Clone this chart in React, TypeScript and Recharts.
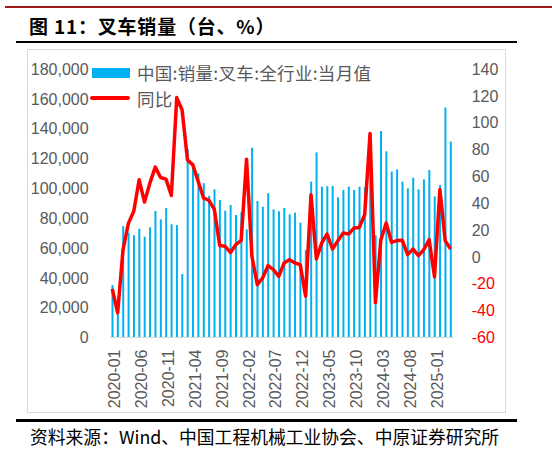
import { Bar, ComposedChart, Legend, Line, XAxis, YAxis } from 'recharts';

// months shown on the category axis (2020-01 .. 2025-04)
const months = [
	'2020-01', '2020-02', '2020-03', '2020-04', '2020-05', '2020-06', '2020-07', '2020-08', '2020-09', '2020-10', '2020-11', '2020-12',
	'2021-01', '2021-02', '2021-03', '2021-04', '2021-05', '2021-06', '2021-07', '2021-08', '2021-09', '2021-10', '2021-11', '2021-12',
	'2022-01', '2022-02', '2022-03', '2022-04', '2022-05', '2022-06', '2022-07', '2022-08', '2022-09', '2022-10', '2022-11', '2022-12',
	'2023-01', '2023-02', '2023-03', '2023-04', '2023-05', '2023-06', '2023-07', '2023-08', '2023-09', '2023-10', '2023-11', '2023-12',
	'2024-01', '2024-02', '2024-03', '2024-04', '2024-05', '2024-06', '2024-07', '2024-08', '2024-09', '2024-10', '2024-11', '2024-12',
	'2025-01', '2025-02', '2025-03', '2025-04'
];

// 中国:销量:叉车:全行业:当月值 (台)
const sales = [
	35200, 16000, 74700, 70300, 68500, 73000, 67600, 73900, 84800, 79200, 86800, 75900,
	75400, 42600, 126400, 116300, 110000, 103400, 95000, 99300, 92200, 85000, 88800, 82100,
	83900, 72500, 127200, 91500, 87700, 96700, 85900, 84600, 86800, 82600, 83700, 77000,
	58700, 104500, 124100, 101100, 101400, 101600, 94000, 98900, 101100, 98900, 101100, 100700,
	112000, 68600, 138400, 124800, 111200, 112700, 104500, 100000, 107100, 99300, 106000, 112300,
	94600, 102200, 154200, 131300
];

// 同比 (%)
const yoy = [
	-23.8, -41.6, 5.4, 25, 34, 57.5, 40.9, 55, 66.9, 59.2, 58, 45.8,
	118.7, 109.5, 72.3, 68.6, 56.2, 43.9, 42.1, 35.5, 8.5, 7.9, 3.4, 9.1,
	12.4, 72.8, 0.5, -20.6, -15.6, -6.5, -9.4, -14.4, -4.5, -2, -4.5, -5.7,
	-29.3, 46.3, -1.5, 10.4, 17.1, 5.9, 12, 17.8, 17.1, 21.5, 22, 31.5,
	92, -34, 12.6, 25.3, 10.9, 12.2, 12.4, 1.7, 5.9, 1, 5.4, 12.9,
	-14.8, 50.2, 12, 5.9
];

const leftTicks = [0, 20000, 40000, 60000, 80000, 100000, 120000, 140000, 160000, 180000];
const rightTicks = [-60, -40, -20, 0, 20, 40, 60, 80, 100, 120, 140];

const data = months.map((m, i) => ({ month: m, sales: sales[i], yoy: yoy[i] }));

const AXIS_FONT = '"Liberation Sans", Arial, sans-serif';
const CJK_FONT = '"Noto Sans CJK SC", "Liberation Sans", sans-serif';

const MonthTick = ({ x, y, payload }: any) => (
	<text x={x} y={y} transform={`rotate(-90, ${x}, ${y})`} textAnchor="end" dy="0.5em" fill="#595959" fontSize={16} fontFamily={AXIS_FONT}>
		{payload.value}
	</text>
);

const RightTick = ({ x, y, payload }: any) => (
	<text x={x} y={y} dy="0.355em" textAnchor="start" fill={payload.value < 0 ? '#FF0000' : '#595959'} fontSize={16} fontFamily={AXIS_FONT}>
		{payload.value}
	</text>
);

const LegendBox = () => (
	<div style={{ fontFamily: CJK_FONT, fontSize: 17.5, letterSpacing: 0.3, color: '#595959', whiteSpace: 'nowrap' }}>
		<div style={{ display: 'flex', alignItems: 'center', height: 25.5 }}>
			<span style={{ display: 'inline-block', width: 38, height: 10, marginLeft: 2, background: '#00B0F0' }} />
			<span style={{ marginLeft: 7 }}>中国:销量:叉车:全行业:当月值</span>
		</div>
		<div style={{ display: 'flex', alignItems: 'center', height: 25.5 }}>
			<span style={{ display: 'inline-block', width: 40, height: 4, background: '#FF0000', borderRadius: 2 }} />
			<span style={{ marginLeft: 7 }}>同比</span>
		</div>
	</div>
);

export default function App() {
	return (
		<div style={{ position: 'absolute', left: 0, top: 0, width: 552, height: 450, background: '#fff', overflow: 'hidden' }}>
			{/* header rules and title */}
			<div style={{ position: 'absolute', left: 5, top: 6, width: 547, height: 2, background: '#9E1A1A' }} />
			<div
				style={{
					position: 'absolute',
					left: 29,
					top: 13.5,
					fontFamily: CJK_FONT,
					fontWeight: 'bold',
					fontSize: 19,
					letterSpacing: 0.8,
					lineHeight: '24px',
					color: '#000',
					whiteSpace: 'nowrap'
				}}
			>
				图 11：叉车销量（台、%）
			</div>
			<div style={{ position: 'absolute', left: 16, top: 40.5, width: 501, height: 2.5, background: '#000' }} />

			{/* chart frame */}
			<div style={{ position: 'absolute', left: 27, top: 49, width: 477, height: 362, border: '1px solid #D9D9D9' }} />

			<div style={{ position: 'absolute', left: 0, top: 0 }}>
				<ComposedChart width={552} height={450} data={data} margin={{ top: 69, right: 38.7, bottom: 42.5, left: 0 }} barCategoryGap="35%">
					<XAxis
						dataKey="month"
						interval={4}
						height={70}
						tickLine={false}
						tickSize={0}
						tickMargin={12}
						axisLine={{ stroke: '#D9D9D9' }}
						tick={<MonthTick />}
					/>
					<YAxis
						yAxisId="left"
						orientation="left"
						width={109.6}
						domain={[0, 180000]}
						ticks={leftTicks}
						axisLine={false}
						tickLine={false}
						tickSize={0}
						tickMargin={21}
						tickFormatter={(v: number) => v.toLocaleString('en-US')}
						tick={{ fill: '#595959', fontSize: 16, fontFamily: AXIS_FONT }}
					/>
					<YAxis
						yAxisId="right"
						orientation="right"
						width={60}
						domain={[-60, 140]}
						ticks={rightTicks}
						axisLine={false}
						tickLine={false}
						tickSize={0}
						tickMargin={18.4}
						tick={<RightTick />}
					/>
					<Legend
						layout="horizontal"
						verticalAlign="middle"
						align="center"
						wrapperStyle={{ left: 90, top: 60, width: 'auto' }}
						content={<LegendBox />}
					/>
					<Bar yAxisId="left" dataKey="sales" name="中国:销量:叉车:全行业:当月值" fill="#00B0F0" isAnimationActive={false} />
					<Line
						yAxisId="right"
						type="linear"
						dataKey="yoy"
						name="同比"
						stroke="#FF0000"
						strokeWidth={3.5}
						dot={false}
						activeDot={false}
						strokeLinejoin="round"
						isAnimationActive={false}
					/>
				</ComposedChart>
			</div>

			<div
				style={{
					position: 'absolute',
					left: 16,
					top: 419,
					width: 501,
					height: 2.5,
					background: '#000'
				}}
			/>
			<div
				style={{
					position: 'absolute',
					left: 30,
					top: 424,
					fontFamily: CJK_FONT,
					fontSize: 17.8,
					lineHeight: '24px',
					color: '#000',
					whiteSpace: 'nowrap'
				}}
			>
				资料来源：Wind、中国工程机械工业协会、中原证券研究所
			</div>
		</div>
	);
}
